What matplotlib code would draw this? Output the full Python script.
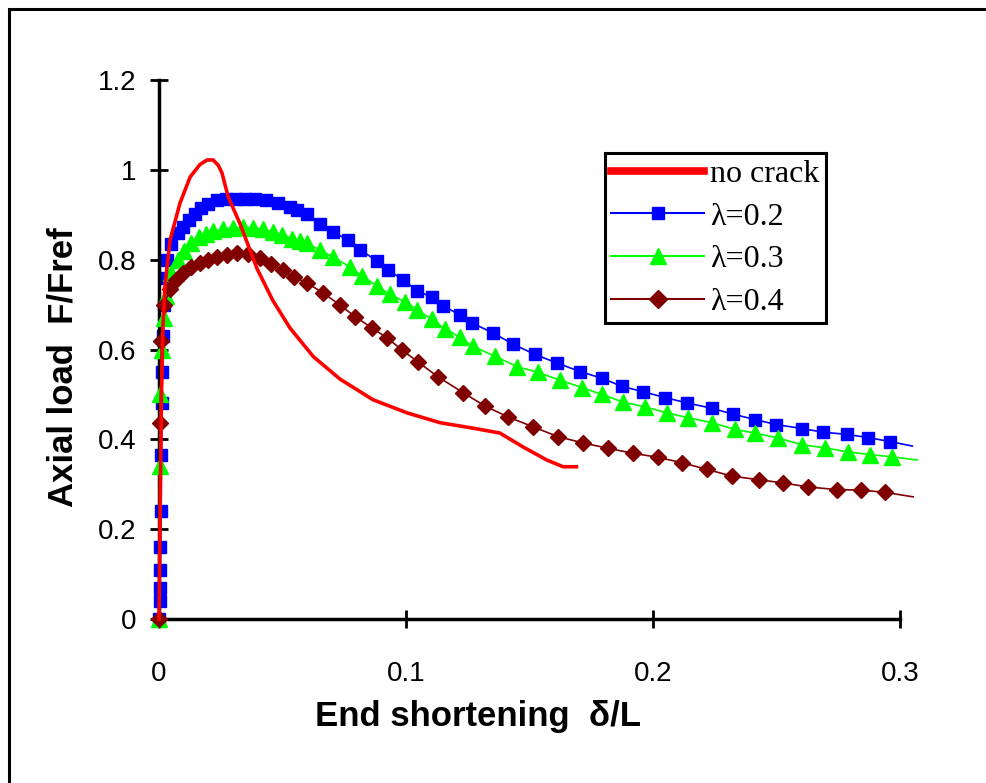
import numpy as np
import matplotlib
matplotlib.use("Agg")
import matplotlib.pyplot as plt
from matplotlib.lines import Line2D
from matplotlib.patches import Rectangle

# Data (delta/L, F/Fref)
nocrack_x = [0, 0.0005, 0.001, 0.0016, 0.0024, 0.0045, 0.0085, 0.0126, 0.0166, 0.0195,
             0.0219, 0.024, 0.0255, 0.028, 0.0328, 0.0397, 0.046, 0.053, 0.0625, 0.0733,
             0.0867, 0.1004, 0.1138, 0.127, 0.138, 0.1474, 0.157, 0.1636, 0.169]
nocrack_y = [0, 0.25, 0.5, 0.65, 0.74, 0.844, 0.926, 0.984, 1.012, 1.022,
             1.022, 1.01, 0.993, 0.94, 0.88, 0.78, 0.71, 0.648, 0.584, 0.534,
             0.488, 0.459, 0.437, 0.425, 0.414, 0.383, 0.354, 0.339, 0.339]

lam02_x = [0, 0.0003, 0.0004, 0.0005, 0.0006, 0.0008, 0.0010, 0.0012, 0.0014, 0.0017,
           0.0021, 0.0026, 0.0032, 0.005, 0.0075, 0.0097, 0.012, 0.0145, 0.017, 0.02,
           0.0235, 0.027, 0.031, 0.035, 0.039, 0.0435, 0.048, 0.053, 0.056, 0.060,
           0.065, 0.0704, 0.0765, 0.0814, 0.0883, 0.0927, 0.0988, 0.1045, 0.1105, 0.115,
           0.1219, 0.1267, 0.1352, 0.1433, 0.1522, 0.1611, 0.1704, 0.1793, 0.1874, 0.196,
           0.2049, 0.2138, 0.2239, 0.2324, 0.2413, 0.2498, 0.2603, 0.2688, 0.2785, 0.287,
           0.296, 0.305]
lam02_y = [0, 0.04, 0.07, 0.11, 0.16, 0.24, 0.365, 0.48, 0.55, 0.63,
           0.70, 0.76, 0.80, 0.835, 0.86, 0.873, 0.888, 0.902, 0.915, 0.925,
           0.932, 0.934, 0.935, 0.935, 0.934, 0.932, 0.927, 0.918, 0.911, 0.902,
           0.879, 0.862, 0.844, 0.822, 0.797, 0.778, 0.755, 0.731, 0.716, 0.697,
           0.677, 0.659, 0.637, 0.612, 0.589, 0.570, 0.551, 0.536, 0.518, 0.506,
           0.493, 0.481, 0.469, 0.456, 0.444, 0.433, 0.424, 0.416, 0.411, 0.404,
           0.395, 0.385]

lam03_x = [0, 0.0003, 0.0006, 0.0012, 0.002, 0.003, 0.005, 0.0075, 0.01, 0.013,
           0.016, 0.019, 0.022, 0.026, 0.030, 0.034, 0.038, 0.042, 0.046, 0.050,
           0.054, 0.057, 0.060, 0.065, 0.0704, 0.0773, 0.0822, 0.0883, 0.0935, 0.0996,
           0.1045, 0.1105, 0.1158, 0.1219, 0.1271, 0.136, 0.1449, 0.1534, 0.1623, 0.1713,
           0.1793, 0.1879, 0.1968, 0.2057, 0.2142, 0.2239, 0.2332, 0.2413, 0.2506, 0.2603,
           0.2696, 0.279, 0.2879, 0.2968, 0.307]
lam03_y = [0, 0.34, 0.50, 0.60, 0.67, 0.72, 0.77, 0.80, 0.82, 0.838,
           0.85, 0.858, 0.864, 0.868, 0.871, 0.872, 0.871, 0.868, 0.862, 0.855,
           0.847, 0.842, 0.836, 0.822, 0.806, 0.784, 0.764, 0.741, 0.723, 0.706,
           0.688, 0.667, 0.646, 0.627, 0.607, 0.585, 0.562, 0.549, 0.532, 0.515,
           0.500, 0.483, 0.472, 0.459, 0.448, 0.437, 0.422, 0.414, 0.403, 0.388,
           0.381, 0.372, 0.366, 0.361, 0.354]

lam04_x = [0, 0.0004, 0.001, 0.002, 0.0045, 0.007, 0.0097, 0.013, 0.0166, 0.020,
           0.0235, 0.0275, 0.0316, 0.036, 0.041, 0.0455, 0.0502, 0.0545, 0.060, 0.0664,
           0.0733, 0.0794, 0.0862, 0.0923, 0.0984, 0.1049, 0.113, 0.1231, 0.132, 0.1413,
           0.1514, 0.1615, 0.1717, 0.1818, 0.1919, 0.202, 0.2117, 0.2219, 0.232, 0.2429,
           0.2526, 0.2628, 0.2745, 0.2842, 0.2939, 0.3053]
lam04_y = [0, 0.436, 0.62, 0.70, 0.735, 0.755, 0.77, 0.783, 0.793, 0.80,
           0.806, 0.811, 0.815, 0.812, 0.803, 0.790, 0.776, 0.762, 0.748, 0.726,
           0.699, 0.673, 0.648, 0.626, 0.599, 0.572, 0.539, 0.504, 0.474, 0.450,
           0.428, 0.406, 0.392, 0.380, 0.369, 0.360, 0.348, 0.333, 0.318, 0.310,
           0.303, 0.294, 0.288, 0.287, 0.282, 0.272]

x_ticks = [0, 0.1, 0.2, 0.3]
x_ticklabels = ["0", "0.1", "0.2", "0.3"]
y_ticks = [0, 0.2, 0.4, 0.6, 0.8, 1.0, 1.2]
y_ticklabels = ["0", "0.2", "0.4", "0.6", "0.8", "1", "1.2"]

plt.rcParams["font.family"] = ["Liberation Sans", "DejaVu Sans"]

fig = plt.figure(figsize=(9.87, 7.83), dpi=100)
ax = fig.add_axes([159 / 987, 1 - 619 / 783, 741 / 987, 539 / 783])

ax.plot(nocrack_x, nocrack_y, color="#ff0000", lw=2.6, clip_on=False, zorder=5)
ax.plot(lam02_x, lam02_y, color="#0000ff", lw=1.2, marker="s", ms=8,
        markevery=slice(0, -1), clip_on=False, zorder=2)
ax.plot(lam03_x, lam03_y, color="#00ff00", lw=1.2, marker="^", ms=11,
        markevery=slice(0, -1), clip_on=False, zorder=3)
ax.plot(lam04_x, lam04_y, color="#800000", lw=1.2, marker="D", ms=8.5,
        markevery=slice(0, -1), clip_on=False, zorder=4)

ax.set_xlim(0, 0.3)
ax.set_ylim(0, 1.2)
ax.set_xticks(x_ticks)
ax.set_xticklabels(x_ticklabels)
ax.set_yticks(y_ticks)
ax.set_yticklabels(y_ticklabels)
ax.tick_params(direction="inout", length=13, width=2, labelsize=20)
ax.tick_params(axis="x", pad=24)
ax.tick_params(axis="y", pad=10)

for s in ["top", "right"]:
    ax.spines[s].set_visible(False)
for s in ["left", "bottom"]:
    ax.spines[s].set_linewidth(2.5)

ax.set_xlabel("End shortening  \u03b4/L", fontsize=25, fontweight="bold")
ax.set_ylabel("Axial load  F/Fref", fontsize=25, fontweight="bold")
ax.xaxis.set_label_coords(0.4305, -0.15)
ax.yaxis.set_label_coords(-0.107, 0.4675)

# legend
handles = [
    Line2D([], [], color="#ff0000", lw=5.5),
    Line2D([], [], color="#0000ff", lw=1.5, marker="s", ms=9),
    Line2D([], [], color="#00ff00", lw=1.5, marker="^", ms=11),
    Line2D([], [], color="#800000", lw=1.5, marker="D", ms=9),
]
labels = ["no crack", "\u03bb=0.2", "\u03bb=0.3", "\u03bb=0.4"]
leg = ax.legend(handles, labels, loc="upper left",
                bbox_to_anchor=(605 / 987, 1 - 153 / 783), bbox_transform=fig.transFigure,
                borderaxespad=0, fancybox=False, framealpha=1, edgecolor="black",
                prop={"family": "Liberation Serif", "size": 23},
                handlelength=2.9, handletextpad=0.2, borderpad=0.2, labelspacing=0.42,
                numpoints=1)
leg.get_frame().set_linewidth(2.2)

# outer frame
fig.add_artist(Rectangle((9 / 987, -0.1), 1.2, 1 - 9 / 783 + 0.1, transform=fig.transFigure,
                         fill=False, edgecolor="black", lw=2.2, clip_on=False))

fig.savefig("out.png", dpi=100, facecolor="white")
